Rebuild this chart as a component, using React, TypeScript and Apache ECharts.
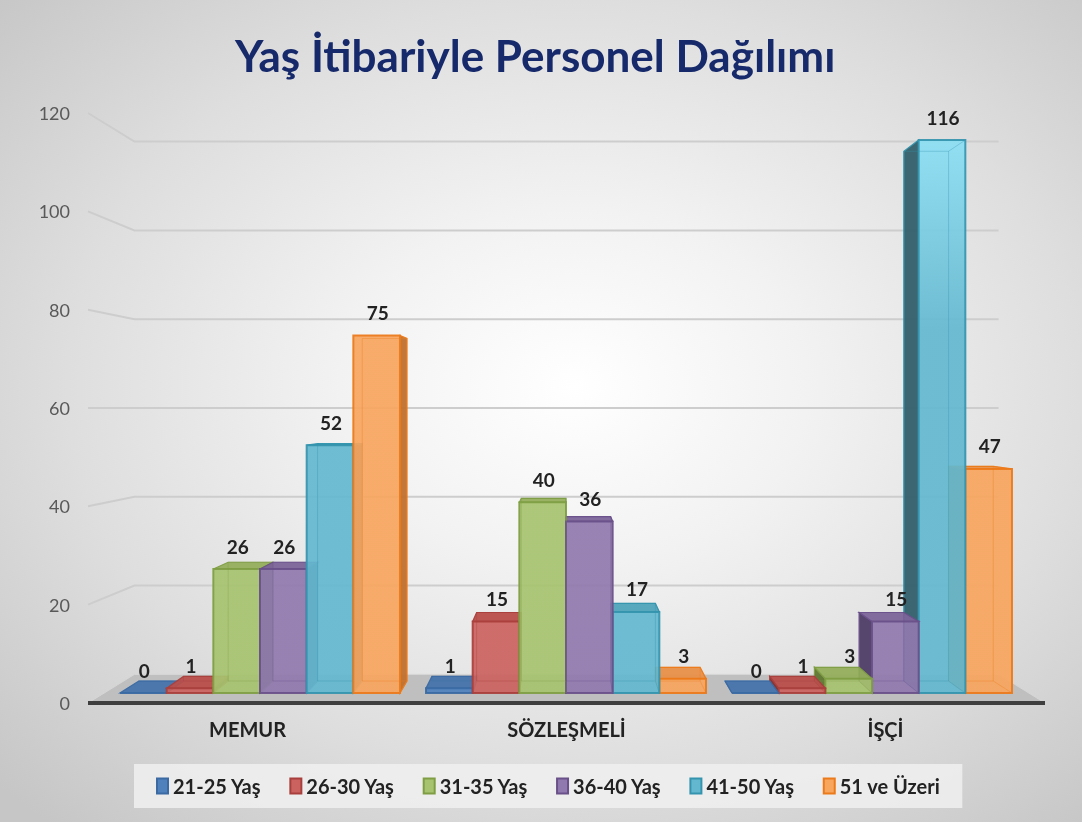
import React, { useEffect, useRef } from "react";
import * as echarts from "echarts";

const categories = ["MEMUR", "SÖZLEŞMELİ", "İŞÇİ"];
const seriesNames = ["21-25 Yaş", "26-30 Yaş", "31-35 Yaş", "36-40 Yaş", "41-50 Yaş", "51 ve Üzeri"];
const age21_25 = [0, 1, 0];
const age26_30 = [1, 15, 1];
const age31_35 = [26, 40, 3];
const age36_40 = [26, 36, 15];
const age41_50 = [52, 17, 116];
const age51plus = [75, 3, 47];
const seriesValues = [age21_25, age26_30, age31_35, age36_40, age41_50, age51plus];
const yTicks = [0, 20, 40, 60, 80, 100, 120];

const palette = [
  { fill: "#4F81BD", light: "#6E9BD3", stroke: "#3B6AA3", side: "#2F4F78", top: "#4573AB" },
  { fill: "#CB625F", light: "#DE807D", stroke: "#A93F3C", side: "#7E2F2D", top: "#B84E4B" },
  { fill: "#A7C36F", light: "#BFD88C", stroke: "#7F9E44", side: "#5E7632", top: "#93AE5C" },
  { fill: "#9079AE", light: "#A792C6", stroke: "#6A5089", side: "#4E3C66", top: "#7C659A" },
  { fill: "#63B8CF", light: "#90E2F7", stroke: "#3494AE", side: "#33606C", top: "#4FA3BA" },
  { fill: "#F8A55E", light: "#FBB978", stroke: "#EC7A1A", side: "#C0712F", top: "#E8904A" },
];

const FONT = "Lato, 'Open Sans', sans-serif";

function makeBarRenderer(sIdx: number) {
  return (params: any, api: any) => {
    const cat = api.value(0);
    const v = api.value(1);
    const cs = params.coordSys;
    const topP = api.coord([cat, v]);
    const baseP = api.coord([cat, 0]);
    const catW = api.size([1, 0])[0];
    const bw = (catW * 0.915) / 6;
    const x0 = topP[0] - 3 * bw + sIdx * bw;
    const x1 = x0 + bw;
    const yT = topP[1];
    const yB = baseP[1];
    const vpX = cs.x + cs.width / 2;
    const vpY = api.coord([0, 60])[1];
    const hiY = api.coord([0, 76])[1];
    const k = 0.042;
    const bk = (p: number[]) => [p[0] + (vpX - p[0]) * k, p[1] + (vpY - p[1]) * k];
    const fTL = [x0, yT], fTR = [x1, yT], fBR = [x1, yB], fBL = [x0, yB];
    const bTL = bk(fTL), bTR = bk(fTR), bBR = bk(fBR), bBL = bk(fBL);
    const cx = (x0 + x1) / 2;
    const zb = Math.round((1000 - Math.abs(cx - vpX)) * 10);
    const c = palette[sIdx];
    const frontFill = new echarts.graphic.LinearGradient(
      0, cs.y, 0, hiY,
      [{ offset: 0, color: c.light }, { offset: 1, color: c.fill }],
      true
    );
    const children: any[] = [];
    if (x1 < vpX) {
      children.push({ type: "polygon", z2: zb + 1, shape: { points: [fTR, bTR, bBR, fBR] }, style: { fill: c.side, stroke: c.stroke, lineWidth: 1.2, opacity: 0.95 } });
    } else if (x0 > vpX) {
      children.push({ type: "polygon", z2: zb + 1, shape: { points: [fTL, bTL, bBL, fBL] }, style: { fill: c.side, stroke: c.stroke, lineWidth: 1.2, opacity: 0.95 } });
    }
    if (yT > vpY) {
      children.push({ type: "polygon", z2: zb + 2, shape: { points: [fTL, fTR, bTR, bTL] }, style: { fill: c.top, stroke: c.stroke, lineWidth: 1.2, opacity: 0.95 } });
    }
    children.push({ type: "rect", z2: zb + 3, shape: { x: x0, y: yT, width: bw, height: Math.max(yB - yT, 0) }, style: { fill: frontFill, stroke: c.stroke, lineWidth: 2, opacity: 0.92 } });
    children.push({ type: "polyline", z2: zb + 4, shape: { points: [bTL, bTR, bBR, bBL, bTL] }, style: { fill: "none", stroke: c.stroke, lineWidth: 1, opacity: 0.35 } });
    children.push({ type: "polyline", z2: zb + 4, shape: { points: [fTR, bTR] }, style: { fill: "none", stroke: c.stroke, lineWidth: 1, opacity: 0.35 } });
    children.push({ type: "polyline", z2: zb + 4, shape: { points: [fBR, bBR] }, style: { fill: "none", stroke: c.stroke, lineWidth: 1, opacity: 0.35 } });
    children.push({
      type: "text", z2: 50000,
      style: { text: String(v), x: cx + 1, y: yT - 23, align: "center", verticalAlign: "middle", font: `bold 19px ${FONT}`, fill: "#222222" },
    });
    return { type: "group", children };
  };
}

function renderWall(params: any, api: any) {
  const v = api.value(1);
  const cs = params.coordSys;
  const L = api.coord([0, v])[1];
  const vpX = cs.x + cs.width / 2;
  const vpY = cs.y + cs.height / 2;
  const kW = 0.097;
  const bk = (p: number[]) => [p[0] + (vpX - p[0]) * kW, p[1] + (vpY - p[1]) * kW];
  const xL = cs.x;
  const xR = cs.x + cs.width;
  if (v === 0) {
    const fl = [xL, L], fr = [xR, L];
    const bl = bk(fl), br = bk(fr);
    return {
      type: "group",
      children: [
        { type: "polygon", shape: { points: [fl, fr, br, bl] }, style: { fill: "#BFBFBF", stroke: "#D6D6D6", lineWidth: 1 } },
        { type: "line", shape: { x1: xL, y1: L, x2: xR, y2: L }, style: { stroke: "#3F3F3F", lineWidth: 4 } },
      ],
    };
  }
  const pl = [xL, L];
  const bl = bk(pl);
  const br = bk([xR, L]);
  return {
    type: "polyline",
    shape: { points: [pl, bl, [br[0], bl[1]]] },
    style: { fill: "none", stroke: "#CDCDCD", lineWidth: 2 },
  };
}

export default function App() {
  const ref = useRef<HTMLDivElement>(null);
  useEffect(() => {
    if (!ref.current) return;
    const chart = echarts.init(ref.current, null, { renderer: "svg" });
    const barSeries = seriesNames.map((name, sIdx) => ({
      name,
      type: "custom",
      xAxisIndex: 0,
      yAxisIndex: 0,
      z: 3,
      itemStyle: { color: palette[sIdx].fill, borderColor: palette[sIdx].stroke, borderWidth: 1.5 },
      renderItem: makeBarRenderer(sIdx),
      encode: { x: 0, y: 1 },
      data: seriesValues[sIdx].map((v, i) => [i, v]),
    }));
    chart.setOption({
      animation: false,
      backgroundColor: "transparent",
      title: {
        text: "Yaş İtibariyle Personel Dağılımı",
        left: 230,
        top: 28,
        textStyle: { fontFamily: FONT, fontWeight: "bold", fontSize: 44, color: "#16296B" },
      },
      legend: {
        data: seriesNames,
        top: 764,
        left: 134,
        icon: "rect",
        itemWidth: 11,
        itemHeight: 15,
        itemGap: 28,
        padding: [12, 22],
        backgroundColor: "rgba(240,240,240,0.85)",
        textStyle: { fontFamily: FONT, fontWeight: "bold", fontSize: 20, color: "#222222" },
      },
      grid: [
        { left: 107, right: 57, top: 121, bottom: 129 },
        { left: 88, right: 37, top: 113, bottom: 119 },
      ],
      xAxis: [
        { type: "category", gridIndex: 0, data: categories, show: false },
        {
          type: "category", gridIndex: 1, data: categories,
          axisLine: { show: false }, axisTick: { show: false },
          axisLabel: { margin: 16, fontFamily: FONT, fontWeight: "bold", fontSize: 20, color: "#222222" },
        },
      ],
      yAxis: [
        { type: "value", gridIndex: 0, min: 0, max: 120, interval: 20, show: false },
        {
          type: "value", gridIndex: 1, min: 0, max: 120, interval: 20,
          axisLine: { show: false }, axisTick: { show: false }, splitLine: { show: false },
          axisLabel: { margin: 18, fontFamily: FONT, fontSize: 18, color: "#595959" },
        },
      ],
      series: [
        {
          type: "custom",
          name: "walls",
          xAxisIndex: 1,
          yAxisIndex: 1,
          z: 1,
          silent: true,
          renderItem: renderWall,
          encode: { x: 0, y: 1 },
          data: yTicks.map((v) => [0, v]),
        },
        ...barSeries,
      ],
    });
    return () => chart.dispose();
  }, []);
  return (
    <div
      style={{
        position: "fixed",
        left: 0,
        top: 0,
        width: 1082,
        height: 822,
        background: "radial-gradient(ellipse 72% 72% at 53% 47%, #ffffff 0%, #f2f2f2 30%, #dedede 65%, #c6c6c6 100%)",
      }}
    >
      <div ref={ref} style={{ width: 1082, height: 822 }} />
    </div>
  );
}
